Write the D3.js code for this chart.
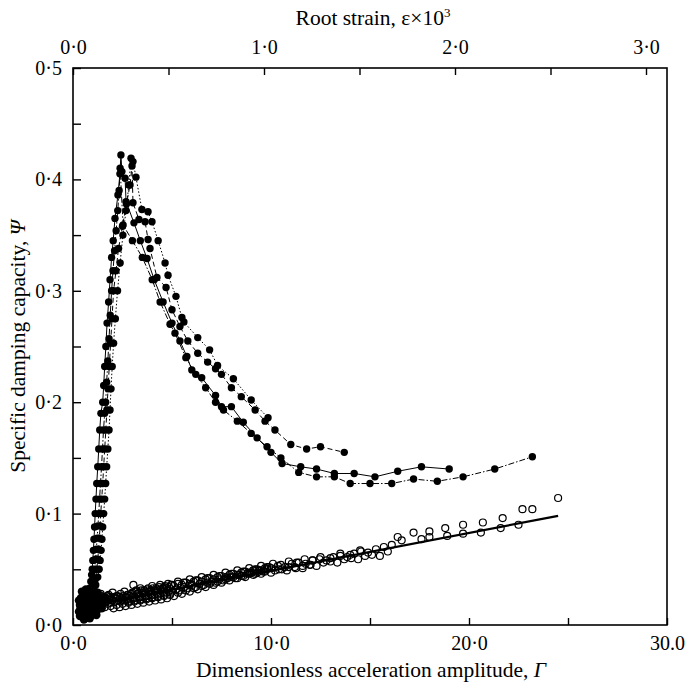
<!DOCTYPE html>
<html><head><meta charset="utf-8">
<script src="https://cdn.jsdelivr.net/npm/d3@7"></script>
<style>
html,body{margin:0;padding:0;background:#fff;}
svg{display:block;font-family:"Liberation Serif","Times New Roman",serif;}
</style></head>
<body><svg id="c" width="685" height="685"></svg>
<script>
// ---- axis tick values / labels ----
const xTicks = [0,5,10,15,20,25,30];
const xLabels = {0:"0·0",10:"10·0",20:"20·0",30:"30.0"};
const topTicks = [0,0.5,1,1.5,2,2.5,3];
const topLabels = {0:"0·0",1:"1·0",2:"2·0",3:"3·0"};
const yTicks = [0,0.05,0.1,0.15,0.2,0.25,0.3,0.35,0.4,0.45,0.5];
const yLabels = {"0":"0·0","0.1":"0·1","0.2":"0·2","0.3":"0·3","0.4":"0·4","0.5":"0·5"};

// ---- filled-circle series [Γ, Ψ] ----
const seriesA = [[0.55,0.012],[0.62,0.017],[0.68,0.013],[0.75,0.02],[0.85,0.022],[0.95,0.026],[1.05,0.03],[1.15,0.036],[1.25,0.043],[1.32,0.05],[1.37,0.058],[1.42,0.067],[1.46,0.077],[1.5,0.088],[1.55,0.1],[1.6,0.113],[1.65,0.127],[1.7,0.142],[1.76,0.158],[1.82,0.175],[1.87,0.193],[1.92,0.212],[1.98,0.232],[2.05,0.253],[2.14,0.275],[2.25,0.3],[2.38,0.325],[2.52,0.35],[2.68,0.372],[2.82,0.395],[2.93,0.419],[3.03,0.416],[3.18,0.402],[3.48,0.373],[3.79,0.371],[3.99,0.362],[4.3,0.345],[4.65,0.325],[4.8,0.314],[5.2,0.295],[5.5,0.276],[5.6,0.272],[6.3,0.258],[6.9,0.247],[7.3,0.233],[8.1,0.221],[9.0,0.202],[9.85,0.186]];
const seriesB = [[0.5,0.015],[0.58,0.01],[0.65,0.018],[0.72,0.014],[0.8,0.021],[0.9,0.024],[0.98,0.028],[1.06,0.034],[1.13,0.041],[1.2,0.05],[1.25,0.059],[1.29,0.068],[1.33,0.078],[1.37,0.089],[1.4,0.1],[1.45,0.113],[1.5,0.127],[1.55,0.142],[1.6,0.158],[1.66,0.175],[1.71,0.193],[1.77,0.212],[1.83,0.232],[1.9,0.253],[1.97,0.275],[2.05,0.3],[2.17,0.318],[2.3,0.338],[2.5,0.358],[2.7,0.378],[2.88,0.395],[2.98,0.412],[3.03,0.379],[3.33,0.364],[3.64,0.362],[3.79,0.346],[3.89,0.338],[4.24,0.312],[4.7,0.303],[5.0,0.283],[5.4,0.268],[5.8,0.255],[6.3,0.244],[6.8,0.236],[7.2,0.23],[7.5,0.225],[8.0,0.213],[8.5,0.205],[9.2,0.193],[9.7,0.183],[10.2,0.175],[11.0,0.162],[11.8,0.158],[12.5,0.16],[13.7,0.155]];
const seriesC = [[0.45,0.018],[0.52,0.013],[0.6,0.021],[0.66,0.016],[0.72,0.024],[0.78,0.028],[0.84,0.033],[0.9,0.039],[0.94,0.045],[0.97,0.05],[1.0,0.058],[1.03,0.067],[1.06,0.077],[1.09,0.088],[1.12,0.1],[1.16,0.113],[1.2,0.127],[1.25,0.142],[1.3,0.158],[1.35,0.175],[1.41,0.19],[1.5,0.2],[1.55,0.215],[1.6,0.232],[1.66,0.25],[1.72,0.271],[1.8,0.29],[1.87,0.31],[1.95,0.33],[2.03,0.345],[2.12,0.365],[2.27,0.386],[2.37,0.405],[2.42,0.422],[2.47,0.407],[2.63,0.401],[2.68,0.38],[3.08,0.361],[3.4,0.345],[3.74,0.329],[4.1,0.31],[4.55,0.29],[5.0,0.271],[5.4,0.255],[5.75,0.241],[6.0,0.229],[6.5,0.222],[7.2,0.206],[7.5,0.196],[8.0,0.196],[8.6,0.182],[9.3,0.168],[10.0,0.155],[10.56,0.145],[11.5,0.142],[12.3,0.14],[13.2,0.136],[14.2,0.136],[15.25,0.133],[16.4,0.138],[17.6,0.142],[19.0,0.14]];
const seriesD = [[0.6,0.01],[0.68,0.015],[0.75,0.012],[0.82,0.019],[0.9,0.022],[0.97,0.027],[1.03,0.033],[1.07,0.04],[1.1,0.05],[1.14,0.059],[1.18,0.068],[1.22,0.078],[1.26,0.089],[1.3,0.1],[1.34,0.113],[1.39,0.127],[1.44,0.142],[1.49,0.158],[1.54,0.175],[1.6,0.19],[1.65,0.2],[1.7,0.218],[1.76,0.237],[1.82,0.257],[1.88,0.278],[1.95,0.3],[2.02,0.318],[2.1,0.336],[2.18,0.354],[2.26,0.372],[2.33,0.39],[2.38,0.41],[2.53,0.359],[3.0,0.345],[3.5,0.33],[4.0,0.31],[4.4,0.29],[4.9,0.27],[5.15,0.262],[5.7,0.24],[6.2,0.225],[6.7,0.213],[7.2,0.2],[7.6,0.193],[8.3,0.183],[9.0,0.172],[9.8,0.16],[10.5,0.15],[11.4,0.137],[12.3,0.133],[13.2,0.133],[14.0,0.127],[15.0,0.127],[16.1,0.127],[17.2,0.131],[18.4,0.129],[19.7,0.133],[21.3,0.14],[23.2,0.151]];
// dense filled cluster at the onset
const onsetCluster = [[0.3,0.012],[0.35,0.018],[0.4,0.009],[0.4,0.024],[0.45,0.014],[0.5,0.027],[0.5,0.007],[0.55,0.02],[0.6,0.011],[0.6,0.03],[0.65,0.024],[0.7,0.008],[0.75,0.017],[0.8,0.028],[0.85,0.011],[0.9,0.022],[0.95,0.015],[1.0,0.026],[1.05,0.019],[1.1,0.012],[1.2,0.022],[1.3,0.018],[1.4,0.024],[1.5,0.02],[0.45,0.03],[0.7,0.031],[0.3,0.022],[0.55,0.005],[0.85,0.006],[1.15,0.028],[0.35,0.008],[0.38,0.015],[0.42,0.021],[0.48,0.011],[0.52,0.017],[0.58,0.024],[0.62,0.006],[0.65,0.014],[0.68,0.02],[0.72,0.027],[0.78,0.01],[0.82,0.016],[0.88,0.025],[0.92,0.009],[0.98,0.02],[1.02,0.013],[1.08,0.025],[1.12,0.017],[1.18,0.009],[1.25,0.014],[1.35,0.021],[1.45,0.015],[1.55,0.025],[0.65,0.032],[0.95,0.03],[1.25,0.029]];

// ---- open-circle runs [Γ, Ψ] ----
const openRun1 = [[0.6,0.016],[0.7,0.018],[0.8,0.015],[0.9,0.019],[1.0,0.017],[1.1,0.02],[1.2,0.019],[1.3,0.021],[1.4,0.02],[1.5,0.022],[1.6,0.02],[1.7,0.021],[1.8,0.023],[1.9,0.02],[2.0,0.022],[2.1,0.021],[2.2,0.024],[2.3,0.022],[2.4,0.021],[2.5,0.023],[2.6,0.022],[2.7,0.024],[2.8,0.021],[2.9,0.023],[3.0,0.025],[3.1,0.022],[3.2,0.024],[3.3,0.026],[3.4,0.023],[3.5,0.025],[3.6,0.027],[3.7,0.024],[3.8,0.026],[3.9,0.028],[4.0,0.025],[4.1,0.027],[4.2,0.029],[4.3,0.026],[4.4,0.028],[4.5,0.03],[4.6,0.027],[4.7,0.029],[4.8,0.031],[4.9,0.028],[5.0,0.03],[5.2,0.032],[5.4,0.031],[5.6,0.034],[5.8,0.033],[6.0,0.036],[6.2,0.034],[6.4,0.037],[6.6,0.036],[6.8,0.038],[7.0,0.039],[7.2,0.038],[7.4,0.041],[7.6,0.04],[7.8,0.042],[8.0,0.043],[8.2,0.042],[8.4,0.045],[8.6,0.044],[8.8,0.046],[9.0,0.047],[9.2,0.046],[9.4,0.049],[9.6,0.048],[9.8,0.05],[10.0,0.051],[10.35,0.053],[10.7,0.052],[11.05,0.055],[11.4,0.056],[11.75,0.055],[12.1,0.058],[12.45,0.059],[12.8,0.058],[13.15,0.061],[13.5,0.062],[13.85,0.061],[14.2,0.064],[14.55,0.066],[14.9,0.065],[15.3,0.068],[15.7,0.07],[16.1,0.072],[16.4,0.079],[17.2,0.083],[18.0,0.084],[18.8,0.087],[19.7,0.09],[20.7,0.092],[21.7,0.096],[22.7,0.104],[23.2,0.104],[24.5,0.114]];
const openRun2 = [[0.55,0.02],[0.65,0.022],[0.75,0.021],[0.85,0.023],[0.95,0.022],[1.05,0.024],[1.15,0.023],[1.25,0.025],[1.35,0.024],[1.45,0.026],[1.55,0.025],[1.65,0.024],[1.75,0.026],[1.85,0.025],[1.95,0.023],[2.05,0.025],[2.15,0.024],[2.25,0.026],[2.35,0.025],[2.45,0.024],[2.55,0.026],[2.65,0.025],[2.75,0.027],[2.85,0.026],[2.95,0.028],[3.05,0.036],[3.15,0.03],[3.25,0.028],[3.35,0.029],[3.45,0.031],[3.55,0.029],[3.65,0.03],[3.75,0.032],[3.85,0.03],[3.95,0.031],[4.05,0.033],[4.15,0.031],[4.25,0.032],[4.35,0.034],[4.45,0.032],[4.55,0.033],[4.65,0.035],[4.75,0.033],[4.85,0.034],[4.95,0.036],[5.1,0.035],[5.3,0.037],[5.5,0.036],[5.7,0.038],[5.9,0.037],[6.1,0.039],[6.3,0.04],[6.5,0.039],[6.7,0.041],[6.9,0.042],[7.1,0.041],[7.3,0.043],[7.5,0.044],[7.7,0.043],[7.9,0.045],[8.1,0.046],[8.3,0.045],[8.5,0.047],[8.7,0.048],[8.9,0.047],[9.1,0.049],[9.3,0.05],[9.5,0.049],[9.7,0.051],[9.9,0.052],[10.2,0.049],[10.55,0.05],[10.9,0.052],[11.25,0.051],[11.6,0.053],[11.95,0.054],[12.3,0.053],[12.65,0.056],[13.0,0.057],[13.35,0.056],[13.7,0.059],[14.05,0.06],[14.4,0.059],[14.75,0.062],[15.1,0.063],[15.5,0.062],[15.9,0.066],[16.6,0.076],[17.6,0.077],[18.0,0.079],[18.9,0.08],[19.7,0.082],[20.6,0.083],[21.6,0.087],[22.5,0.09]];
const openRun3 = [[1.0,0.014],[1.15,0.017],[1.3,0.015],[1.45,0.018],[1.6,0.016],[1.75,0.019],[1.9,0.017],[2.05,0.015],[2.2,0.018],[2.35,0.016],[2.5,0.019],[2.65,0.017],[2.8,0.02],[2.95,0.018],[3.1,0.021],[3.25,0.019],[3.4,0.022],[3.55,0.02],[3.7,0.023],[3.85,0.021],[4.0,0.024],[4.15,0.022],[4.3,0.025],[4.45,0.023],[4.6,0.026],[4.75,0.024],[4.9,0.027],[5.1,0.026],[5.3,0.029],[5.5,0.028],[5.7,0.031],[5.9,0.03],[6.1,0.033],[6.3,0.032],[6.5,0.035],[6.7,0.034],[6.9,0.037],[7.1,0.036],[7.3,0.039],[7.5,0.038],[7.7,0.041],[7.9,0.04],[8.1,0.043],[8.3,0.042],[8.5,0.044],[8.7,0.043],[8.9,0.046],[9.1,0.045],[9.3,0.047],[9.5,0.046],[9.7,0.048],[10.0,0.047],[10.4,0.05],[10.8,0.049],[11.2,0.052],[11.6,0.051],[12.0,0.054]];
const openRun4 = [[1.2,0.026],[1.4,0.028],[1.6,0.025],[1.8,0.027],[2.0,0.029],[2.2,0.026],[2.4,0.028],[2.6,0.03],[2.8,0.027],[3.0,0.029],[3.2,0.031],[3.4,0.033],[3.6,0.031],[3.8,0.033],[4.0,0.035],[4.2,0.033],[4.4,0.036],[4.6,0.034],[4.8,0.037],[5.0,0.036],[5.3,0.039],[5.6,0.038],[5.9,0.041],[6.2,0.04],[6.5,0.043],[6.8,0.042],[7.1,0.045],[7.4,0.044],[7.7,0.047],[8.0,0.046],[8.3,0.049],[8.6,0.048],[8.9,0.051],[9.2,0.05],[9.5,0.053],[9.8,0.052],[10.1,0.055],[10.5,0.054],[10.9,0.057],[11.3,0.056],[11.7,0.059],[12.1,0.058],[12.5,0.061],[13.0,0.06],[13.5,0.064],[14.0,0.063],[14.5,0.067]];

// ---- straight fit line [Γ, Ψ] ----
const fitLine = [[1.0,0.018],[24.5,0.098]];

// ---- drawing ----
const svg = d3.select("#c");
const L = 73, R = 667, T = 68, B = 625;
const x = d3.scaleLinear().domain([0,30]).range([L,R]);
const xTop = d3.scaleLinear().domain([0,3]).range([L,646]);
const y = d3.scaleLinear().domain([0,0.5]).range([B,T]);

const fs = 20, tfs = 21.5;
function styleAxis(g){
  g.select(".domain").remove();
  g.selectAll(".tick line").attr("stroke","#000").attr("stroke-width",1.4);
  g.selectAll(".tick text").attr("font-size",fs).attr("fill","#000")
   .attr("font-family","Liberation Serif, Times New Roman, serif");
}
svg.append("g").attr("transform",`translate(0,${B})`)
  .call(d3.axisBottom(x).tickValues(xTicks).tickSize(-7).tickPadding(11)
    .tickFormat(d=>xLabels[d]||"")).call(styleAxis);
svg.append("g").attr("transform",`translate(0,${T})`)
  .call(d3.axisTop(xTop).tickValues(topTicks).tickSize(-7).tickPadding(14)
    .tickFormat(d=>topLabels[d]||"")).call(styleAxis);
svg.append("g").attr("transform",`translate(${L},0)`)
  .call(d3.axisLeft(y).tickValues(yTicks).tickSize(-8).tickPadding(11)
    .tickFormat(d=>yLabels[String(+d.toFixed(2))]||"")).call(styleAxis);

svg.append("rect").attr("x",L).attr("y",T).attr("width",R-L).attr("height",B-T)
  .attr("fill","none").attr("stroke","#000").attr("stroke-width",1.6);

// open circles
const openAll = openRun1.concat(openRun2, openRun3, openRun4);
svg.append("g").selectAll("circle").data(openAll).join("circle")
  .attr("cx",d=>x(d[0])).attr("cy",d=>y(d[1])).attr("r",3.5)
  .attr("fill","none").attr("stroke","#000").attr("stroke-width",1.2);

// fit line
const line = d3.line().x(d=>x(d[0])).y(d=>y(d[1]));
svg.append("path").datum(fitLine).attr("d",line)
  .attr("fill","none").attr("stroke","#000").attr("stroke-width",2.2);

// filled series
const filled = [
  {data:seriesA, dash:"1.5,2"},
  {data:seriesB, dash:"5,3"},
  {data:seriesC, dash:null},
  {data:seriesD, dash:"6,2,1.5,2"}
];
filled.forEach(s=>{
  svg.append("path").datum(s.data).attr("d",line)
    .attr("fill","none").attr("stroke","#000").attr("stroke-width",1)
    .attr("stroke-dasharray",s.dash);
  svg.append("g").selectAll("circle").data(s.data).join("circle")
    .attr("cx",d=>x(d[0])).attr("cy",d=>y(d[1])).attr("r",3.7).attr("fill","#000");
});
svg.append("g").selectAll("circle").data(onsetCluster).join("circle")
  .attr("cx",d=>x(d[0])).attr("cy",d=>y(d[1])).attr("r",4.2).attr("fill","#000");

// titles
svg.append("text").attr("x",371).attr("y",677).attr("text-anchor","middle")
  .attr("font-size",tfs).html('Dimensionless acceleration amplitude, <tspan font-style="italic">Γ</tspan>');
svg.append("text").attr("x",373).attr("y",25).attr("text-anchor","middle")
  .attr("font-size",tfs).html('Root strain, ε×10<tspan dy="-8" font-size="13">3</tspan>');
svg.append("text").attr("transform",`translate(25,${(T+B)/2}) rotate(-90)`)
  .attr("text-anchor","middle").attr("font-size",tfs)
  .html('Specific damping capacity, <tspan font-style="italic">Ψ</tspan>');
</script></body></html>
